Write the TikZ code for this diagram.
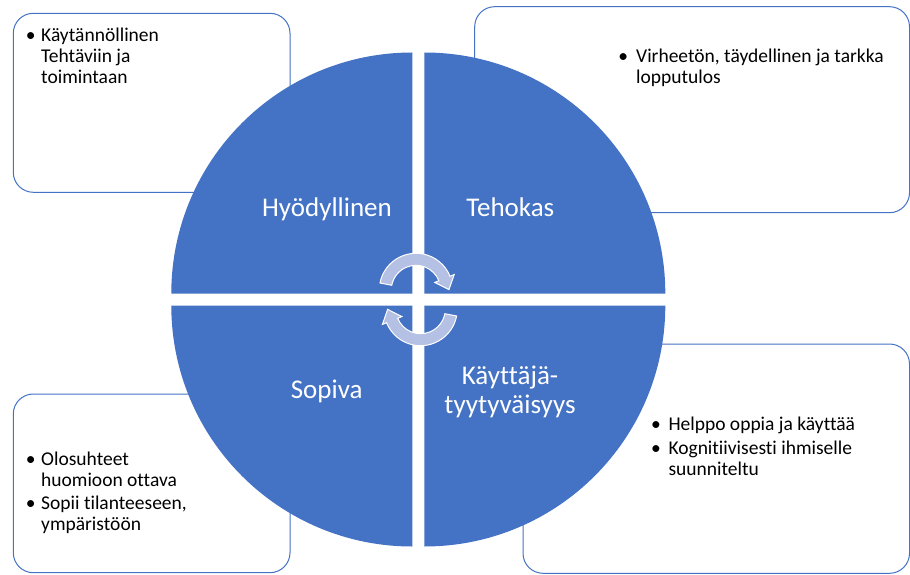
\documentclass[tikz,border=0pt]{standalone}
\usepackage{fontspec}
\setmainfont{Carlito}[Ligatures={NoCommon}]
\definecolor{qblue}{RGB}{68,114,196}
\definecolor{arrowc}{RGB}{180,192,228}
\begin{document}
\begin{tikzpicture}[x=1pt,y=1pt,
  box/.style={draw=qblue, line width=1pt, rounded corners=20pt, fill=white},
  quad/.style={fill=qblue},
  lbl/.style={text=white, font=\fontsize{27}{29}\selectfont, align=center, inner sep=0pt, anchor=base},
  bul/.style={anchor=base, font=\fontsize{19.5}{21}\selectfont, inner sep=0pt},
  itm/.style={anchor=base west, font=\fontsize{19.5}{21}\selectfont, inner sep=0pt},
  carrow/.style={fill=arrowc, draw=white, line width=1pt, line join=miter}]
\useasboundingbox (0,0) rectangle (910,574);
% boxes
\draw[box] (13.3,381.7) rectangle (290,560.7);
\draw[box] (474.7,361.3) rectangle (909.5,567.3);
\draw[box] (13.3,1.3) rectangle (290,180);
\draw[box] (523,0.7) rectangle (909.5,230);
% quadrants
\fill[quad] (412.3,280.5) -- ++(180:241) arc[start angle=180,end angle=90,radius=241] -- cycle;
\fill[quad] (424.3,280.5) -- ++(90:241) arc[start angle=90,end angle=0,radius=241] -- cycle;
\fill[quad] (412.3,268.5) -- ++(180:241) arc[start angle=180,end angle=270,radius=241] -- cycle;
\fill[quad] (424.3,268.5) -- ++(0:241) arc[start angle=0,end angle=-90,radius=241] -- cycle;
% circular arrows
\begin{scope}[shift={(416,284)}]
\draw[carrow] (169:36.7) arc[start angle=169,end angle=22,radius=36.7]
  -- (22:41.2) -- (32.96,0.37) -- (22:20.2) -- (22:24.7)
  arc[start angle=22,end angle=169,radius=24.7] -- cycle;
\end{scope}
\begin{scope}[shift={(420.6,265)}]
\draw[carrow] (349:36.7) arc[start angle=349,end angle=202,radius=36.7]
  -- (202:41.2) -- (-32.96,-0.37) -- (202:20.2) -- (202:24.7)
  arc[start angle=202,end angle=349,radius=24.7] -- cycle;
\end{scope}
% quadrant labels
\node[lbl] (hyo) at (327,358) {Hyödyllinen};
\node[lbl] (teh) at (510.3,358) {Tehokas};
\node[lbl] (sop) at (326.7,175.7) {Sopiva};
\node[lbl] (kay1) at (510,190) {Käyttäjä-};
\node[lbl] (kay2) at (510,161) {tyytyväisyys};
% TL box text
\node[bul] (b1) at (30.8,532) {•};
\node[itm] (t1) at (41,532) {\begin{tabular}[t]{@{}l@{}}Käytännöllinen\\Tehtäviin ja\\toimintaan\end{tabular}};
% TR box text
\node[bul] (b2) at (623.3,511.7) {•};
\node[itm] (t2) at (636,511.7) {\begin{tabular}[t]{@{}l@{}}Virheetön, täydellinen ja tarkka\\lopputulos\end{tabular}};
% BL box text
\node[bul] (b3) at (30.8,109) {•};
\node[itm] (t3) at (41,109) {\begin{tabular}[t]{@{}l@{}}Olosuhteet\\huomioon ottava\end{tabular}};
\node[bul] (b4) at (30.8,64.7) {•};
\node[itm] (t4) at (41,64.7) {\begin{tabular}[t]{@{}l@{}}Sopii tilanteeseen,\\ympäristöön\end{tabular}};
% BR box text
\node[bul] (b5) at (656,144) {•};
\node[itm] (t5) at (668.3,144) {Helppo oppia ja käyttää};
\node[bul] (b6) at (656,120) {•};
\node[itm] (t6) at (668.3,120) {\begin{tabular}[t]{@{}l@{}}Kognitiivisesti ihmiselle\\suunniteltu\end{tabular}};
\end{tikzpicture}
\end{document}
